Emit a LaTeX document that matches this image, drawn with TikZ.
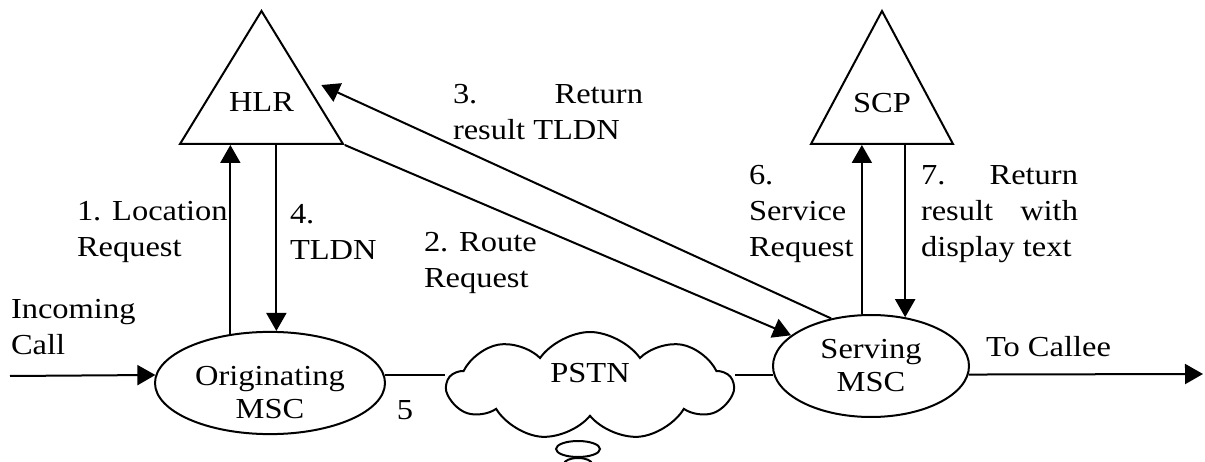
\documentclass[tikz,border=0pt]{standalone}
\usepackage{fontspec}
\setmainfont{Liberation Serif}[FakeStretch=1.12]
\usetikzlibrary{shapes.geometric,shapes.symbols,arrows.meta}

\newcommand{\jline}[3]{\makebox[#1]{#2\hfill#3}}

\begin{document}
\begin{tikzpicture}[x=1pt,y=-1pt,line width=2pt,
    every node/.style={font=\fontsize{29}{36}\selectfont,inner sep=0pt},
    msc/.style={draw,ellipse,align=center,font=\fontsize{29}{33}\selectfont},
    db/.style={draw,isosceles triangle,isosceles triangle stretches,shape border rotate=90,minimum height=133,text depth=18pt},
    lab/.style={align=left},
    arr/.style={-{Triangle[length=18pt,width=20pt]}}]
	\useasboundingbox (0,0) rectangle (1205,462);
	% network elements
	\node (hlr) at (261.5,145) [db,minimum width=163,anchor=lower side] {HLR};
	\node (scp) at (882,145) [db,minimum width=142,anchor=lower side] {SCP};
	\node (orig) at (270,383) [msc,minimum width=230,minimum height=93,text height=72pt] {Originating\\MSC};
	\node (serv) at (871,366) [msc,minimum width=196,minimum height=102] {Serving\\MSC};
	\node (pstn) at (590,386) [draw,cloud,cloud puffs=9,cloud puff arc=110,cloud ignores aspect,minimum width=285,minimum height=108,text depth=27pt] {PSTN};
	\draw (578,449) ellipse (22 and 8);
	\draw (578,464) ellipse (14 and 6);
	\coordinate (in) at (10,376);
	\coordinate (out) at (1203,374);
	% call path
	\draw[arr] (in) -- (orig.176);
	\draw (orig.4) -- (orig.4 -| pstn.west);
	\draw (serv.185 -| pstn.east) -- (serv.185);
	\draw[arr] (serv.-5) -- (out);
	% signalling
	\draw[arr] (orig.129) -- (orig.129 |- hlr.lower side);
	\draw[arr] (orig.83 |- hlr.lower side) -- (orig.83);
	\draw[arr] (hlr.right corner) -- (serv.159);
	\draw[arr,shorten >=20pt] (serv.130) -- (hlr.right side);
	\draw[arr] (serv.100) -- (serv.100 |- scp.lower side);
	\draw[arr] (serv.55 |- scp.lower side) -- (serv.55);
	% labels
	\node (lin) at (10,327) [lab,anchor=west] {Incoming\\Call};
	\node (l1) at (76,232) [lab,anchor=west] {1. Location\\Request};
	\node (l4) at (289,232) [lab,anchor=west] {4.\\TLDN};
	\node (l2) at (423,263) [lab,anchor=west] {2. Route\\Request};
	\node (l3) at (452,112) [lab,anchor=west] {\jline{190pt}{3.}{Return}\\result TLDN};
	\node (l6) at (748,214) [lab,anchor=west] {6.\\Service\\Request};
	\node (l7) at (920,214) [lab,anchor=west] {\jline{157pt}{7.}{Return}\\\jline{157pt}{result}{with}\\display text};
	\node (l5) at (405,410) {5};
	\node (lcallee) at (985,347) [anchor=west] {To Callee};
\end{tikzpicture}
\end{document}
